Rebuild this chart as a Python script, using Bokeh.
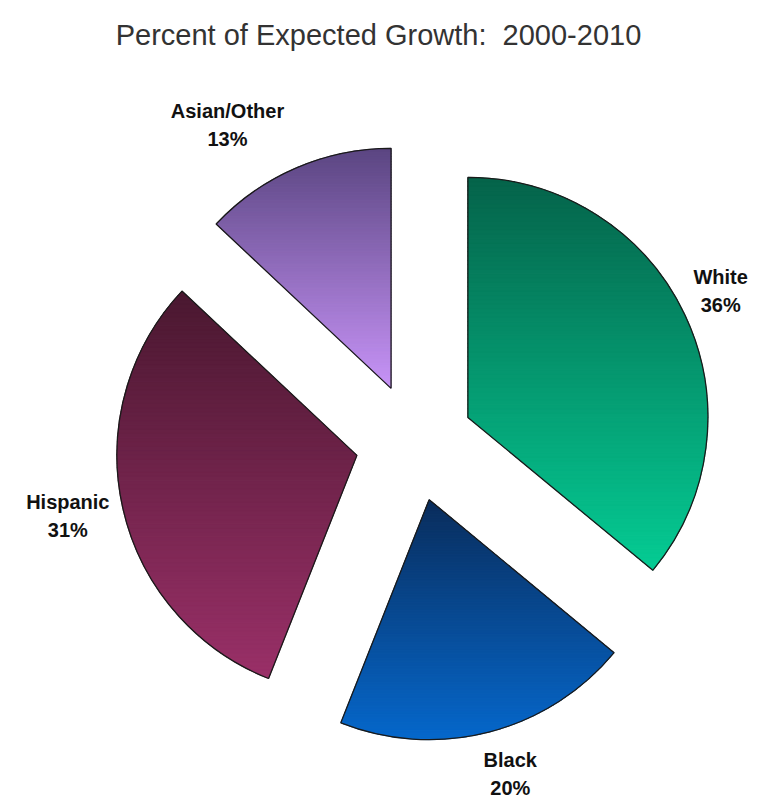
import numpy as np
from bokeh.plotting import figure
from bokeh.models import Range1d, ColumnDataSource
from bokeh.core.properties import value
from bokeh.embed import file_html
from bokeh.resources import INLINE

# ---- data ----
title_text = "Percent of Expected Growth:\u00a0 2000-2010"
categories = ["White", "Black", "Hispanic", "Asian/Other"]
percents = [36, 20, 31, 13]

# ---- style ----
W, H = 765, 803
top_colors = ["#05634a", "#0a2d5c", "#4a1830", "#5b4682"]
bottom_colors = ["#05cc94", "#0668cc", "#9a3068", "#c894f8"]
center_x, center_y = 414, H - 442
radius = 240
explode = 59
label_r = 345
label_nudge = {"White": (-6, 5), "Black": (10, 3), "Hispanic": (-10, 2), "Asian/Other": (-50, 1)}

p = figure(width=W, height=H, x_range=Range1d(0, W), y_range=Range1d(0, H),
           output_backend="svg", toolbar_location=None, min_border=0)
p.axis.visible = False
p.grid.visible = False
p.outline_line_color = None
p.background_fill_color = "white"


def hex2rgb(h):
    h = h.lstrip("#")
    return np.array([int(h[i:i + 2], 16) for i in (0, 2, 4)], dtype=float)


def clip(poly, y0, y1):
    def clip_half(pts, keep, yb):
        out = []
        n = len(pts)
        for i in range(n):
            a = pts[i]
            b = pts[(i + 1) % n]
            ia, ib = keep(a[1]), keep(b[1])
            if ia:
                out.append(a)
            if ia != ib:
                t = (yb - a[1]) / (b[1] - a[1])
                out.append((a[0] + t * (b[0] - a[0]), yb))
        return out
    pts = clip_half(poly, lambda y: y >= y0, y0)
    if not pts:
        return []
    pts = clip_half(pts, lambda y: y <= y1, y1)
    return pts


total = float(sum(percents))
cum = 0.0
wx, wy, ws, we = [], [], [], []
band_xs, band_ys, band_cols = [], [], []
lab_x, lab_y, lab_name, lab_pct = [], [], [], []
for i, (cat, pct) in enumerate(zip(categories, percents)):
    t1 = cum / total * 2 * np.pi
    t2 = (cum + pct) / total * 2 * np.pi
    cum += pct
    mid = (t1 + t2) / 2
    cx = center_x + explode * np.sin(mid)
    cy = center_y + explode * np.cos(mid)
    a_start = np.pi / 2 - t2
    a_end = np.pi / 2 - t1
    wx.append(cx); wy.append(cy); ws.append(a_start); we.append(a_end)
    # polygon for gradient fill
    angs = np.linspace(a_start, a_end, 200)
    poly = [(cx, cy)] + [(cx + radius * np.cos(a), cy + radius * np.sin(a)) for a in angs]
    ys = [q[1] for q in poly]
    ymin, ymax = min(ys), max(ys)
    nb = 90
    edges = np.linspace(ymin, ymax, nb + 1)
    c_top, c_bot = hex2rgb(top_colors[i]), hex2rgb(bottom_colors[i])
    for k in range(nb):
        piece = clip(poly, edges[k] - 0.3, edges[k + 1] + 0.3)
        if len(piece) < 3:
            continue
        f = 1 - ((edges[k] + edges[k + 1]) / 2 - ymin) / (ymax - ymin)
        c = c_top + (c_bot - c_top) * f
        band_xs.append([q[0] for q in piece])
        band_ys.append([q[1] for q in piece])
        band_cols.append("#%02x%02x%02x" % tuple(int(round(v)) for v in c))
    nx, ny = label_nudge[cat]
    lab_x.append(center_x + label_r * np.sin(mid) + nx)
    lab_y.append(center_y + label_r * np.cos(mid) + ny)
    lab_name.append(cat)
    lab_pct.append(f"{pct}%")

p.patches(xs=band_xs, ys=band_ys, fill_color=band_cols, line_color=band_cols, line_width=0.8)
p.wedge(x=wx, y=wy, radius=radius, start_angle=ws, end_angle=we, direction="anticlock",
        fill_alpha=0, line_color="#1a1a1a", line_width=1.3)

lsrc = ColumnDataSource(dict(x=lab_x, y1=[y + 14 for y in lab_y], y2=[y - 14 for y in lab_y],
                             name=lab_name, pct=lab_pct))
p.text(x="x", y="y1", text="name", source=lsrc, text_font=value("Liberation Sans"),
       text_font_style="bold", text_font_size="20px", text_align="center",
       text_baseline="middle", text_color="#111111")
p.text(x="x", y="y2", text="pct", source=lsrc, text_font=value("Liberation Sans"),
       text_font_style="bold", text_font_size="20px", text_align="center",
       text_baseline="middle", text_color="#111111")

p.text(x=[378], y=[H - 34], text=[title_text], text_font=value("Liberation Sans"),
       text_font_size="29px", text_align="center", text_baseline="alphabetic",
       text_color="#333333")

open("out.html", "w").write(file_html(p, INLINE))
